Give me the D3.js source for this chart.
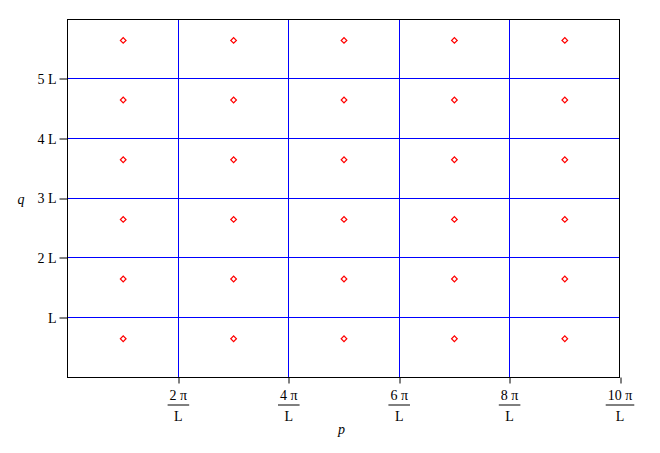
<!DOCTYPE html>
<html><head><meta charset="utf-8">
<script src="https://cdn.jsdelivr.net/npm/d3@7"></script>
<style>body{margin:0;background:#fff}svg{display:block}</style>
</head><body>
<svg id="c" width="660" height="453"></svg>
<script>
// Data (p in units of π/L, q in units of L)
const xTickValues = [2, 4, 6, 8, 10];
const xTickNumerators = ["2 π", "4 π", "6 π", "8 π", "10 π"];
const xTickDenominator = "L";
const yTickValues = [1, 2, 3, 4, 5];
const yTickLabels = ["L", "2 L", "3 L", "4 L", "5 L"];
const pointP = [1, 3, 5, 7, 9];
const pointQ = [0.65, 1.65, 2.65, 3.65, 4.65, 5.65];
const xLabel = "p", yLabel = "q";

(function() {
const svg = d3.select("#c");
const mL = 67.5, mR = 619.5, mT = 19.5, mB = 377.5;
const x = d3.scaleLinear().domain([0, 10]).range([mL, mR]);
const y = d3.scaleLinear().domain([0, 6]).range([mB, mT]);
const font = "'Liberation Serif','DejaVu Serif',serif";

// grid
const g = svg.append("g");
g.selectAll(".vg").data(xTickValues.filter(v => v < 10)).enter().append("line")
  .attr("x1", d => Math.round(x(d)) + 0.5).attr("x2", d => Math.round(x(d)) + 0.5)
  .attr("y1", mT).attr("y2", mB).attr("stroke", "#0000ff").attr("stroke-width", 1);
g.selectAll(".hg").data(yTickValues).enter().append("line")
  .attr("y1", d => Math.round(y(d)) - 0.5).attr("y2", d => Math.round(y(d)) - 0.5)
  .attr("x1", mL).attr("x2", mR).attr("stroke", "#0000ff").attr("stroke-width", 1);

// frame
svg.append("rect").attr("x", mL).attr("y", mT).attr("width", mR - mL).attr("height", mB - mT)
  .attr("fill", "none").attr("stroke", "#000").attr("stroke-width", 1);

// x axis
const xa = svg.append("g").attr("transform", `translate(0,${mB})`)
  .call(d3.axisBottom(x).tickValues(xTickValues).tickSize(6).tickFormat(""));
xa.select(".domain").remove();
xa.selectAll(".tick line").attr("stroke", "#000").attr("transform", function(d){ return `translate(${Math.round(x(d)) + 0.5 - x(d)},0)`; });
xa.selectAll(".tick").each(function(d, i) {
  const t = d3.select(this);
  const num = t.append("text").attr("y", 22).attr("text-anchor", "middle")
    .attr("font-family", font).attr("font-size", 14).attr("fill", "#000").text(xTickNumerators[i]);
  const w = num.node().getComputedTextLength() + 4;
  t.append("line").attr("x1", -w / 2).attr("x2", w / 2).attr("y1", 27.5).attr("y2", 27.5)
    .attr("stroke", "#000").attr("stroke-width", 1);
  t.append("text").attr("y", 43).attr("text-anchor", "middle")
    .attr("font-family", font).attr("font-size", 14).attr("fill", "#000").text(xTickDenominator);
});

// y axis
const ya = svg.append("g").attr("transform", `translate(${mL},0)`)
  .call(d3.axisLeft(y).tickValues(yTickValues).tickSize(8).tickFormat((d, i) => yTickLabels[i]));
ya.select(".domain").remove();
ya.selectAll(".tick line").attr("stroke", "#000").attr("transform", function(d){ return `translate(0,${Math.round(y(d)) - 0.5 - y(d)})`; });
ya.selectAll(".tick text").attr("x", -11).attr("font-family", font).attr("font-size", 14).attr("fill", "#000");

// axis labels
svg.append("text").attr("x", x(5) - 2).attr("y", 434).attr("text-anchor", "middle")
  .attr("font-family", font).attr("font-style", "italic").attr("font-size", 14).text(xLabel);
svg.append("text").attr("x", 21).attr("y", y(3) + 5).attr("text-anchor", "middle")
  .attr("font-family", font).attr("font-style", "italic").attr("font-size", 14).text(yLabel);

// points
const pts = [];
pointP.forEach(p => pointQ.forEach(q => pts.push({p, q})));
const sym = d3.symbol().type(d3.symbolSquare).size(16);
svg.append("g").selectAll("path").data(pts).enter().append("path")
  .attr("d", sym)
  .attr("transform", d => `translate(${x(d.p) + 0.5},${y(d.q)}) rotate(45)`)
  .attr("fill", "none").attr("stroke", "#ff0000").attr("stroke-width", 1.2);
})();
</script>
</body></html>
